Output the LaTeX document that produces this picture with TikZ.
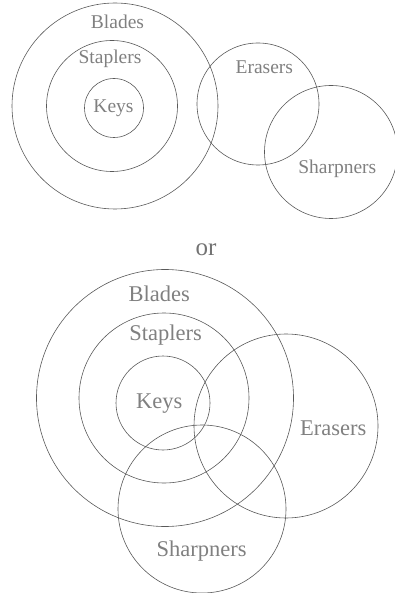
\documentclass[tikz,border=0pt]{standalone}
\usepackage{fontspec}
\setmainfont{Liberation Serif}
\begin{document}
\begin{tikzpicture}[x=1pt,y=-1pt,
  ring/.style={draw=black!65, line width=0.6pt},
  lblA/.style={anchor=base, inner sep=0pt, text=black!50, font=\fontsize{19.5}{21}\selectfont},
  lblB/.style={anchor=base, inner sep=0pt, text=black!50, font=\fontsize{22.5}{24}\selectfont}]
\useasboundingbox (0,0) rectangle (394,593);
% top diagram
\draw[ring] (115,106) circle[radius=103];
\draw[ring] (112,106) circle[radius=65.5];
\draw[ring] (114,108) circle[radius=29.5];
\draw[ring] (258,104) circle[radius=61];
\draw[ring] (331,152) circle[radius=66.5];
\node[lblA] (tb) at (117.5,29) {Blades};
\node[lblA] (ts) at (110,64) {Staplers};
\node[lblA] (tk) at (113.5,112.3) {Keys};
\node[lblA] (te) at (264.3,74) {Erasers};
\node[lblA] (tsh) at (337.3,173.3) {Sharpners};
% or
\node[anchor=base, inner sep=0pt, text=black!55, font=\fontsize{25}{27}\selectfont] (or) at (206,255) {or};
% bottom diagram
\draw[ring] (165,398) circle[radius=128.5];
\draw[ring] (164,398) circle[radius=85];
\draw[ring] (163,403) circle[radius=47];
\draw[ring] (286,426) circle[radius=92];
\draw[ring] (202,509) circle[radius=84];
\node[lblB] (bb) at (159.3,301.7) {Blades};
\node[lblB] (bs) at (165.7,340.7) {Staplers};
\node[lblB] (bk) at (159.3,408.3) {Keys};
\node[lblB] (be) at (333.3,435) {Erasers};
\node[lblB] (bsh) at (201.7,556.7) {Sharpners};
\end{tikzpicture}
\end{document}
